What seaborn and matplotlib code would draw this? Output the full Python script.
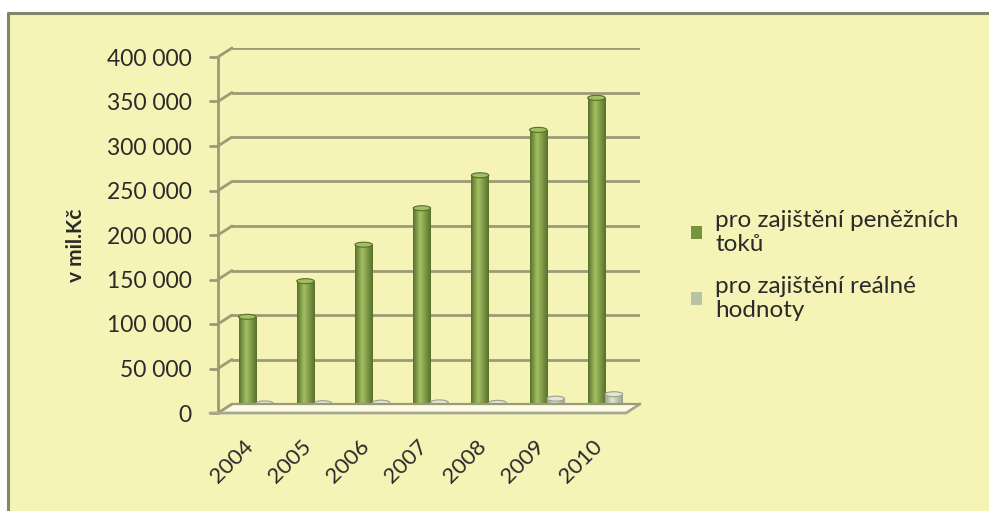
import numpy as np
import pandas as pd
import matplotlib
matplotlib.use("Agg")
import matplotlib.pyplot as plt
import matplotlib.transforms as mtransforms
from matplotlib.patches import Rectangle, Polygon, Ellipse, Patch
from matplotlib.lines import Line2D
import seaborn as sns

# ---- data (mil. Kč) ----
years = ["2004", "2005", "2006", "2007", "2008", "2009", "2010"]
cash_flow_hedges = [98000, 138000, 179000, 220000, 257000, 308000, 344000]
fair_value_hedges = [600, 900, 1500, 1800, 1300, 6000, 11000]
series_names = ["pro zajištění peněžních\ntoků", "pro zajištění reálné\nhodnoty"]
y_ticks = [0, 50000, 100000, 150000, 200000, 250000, 300000, 350000, 400000]
y_label = "v mil.Kč"

W, H, DPI = 989, 511, 100
BG = "#f5f4b6"
GRID = "#9d9b76"
GREEN = "#77933c"
GREEN_DARK = "#56702a"
GREEN_LIGHT = "#a3bf62"
GREY = "#c3cab0"
GREY_DARK = "#9aa08a"
GREY_LIGHT = "#e2e6d6"
TEXT = "#2a2a2a"

sns.set_theme(style="white")
plt.rcParams["font.family"] = ["Lato", "DejaVu Sans"]

df = pd.DataFrame({
    "year": years * 2,
    "value": cash_flow_hedges + fair_value_hedges,
    "series": [series_names[0]] * len(years) + [series_names[1]] * len(years),
})

fig = plt.figure(figsize=(W / DPI, H / DPI), dpi=DPI, facecolor="white")


def fx(x):
    return x / W


def fy(y):
    return 1 - y / H


# chart area with border on top and left
fig.patches.append(Rectangle((fx(8), 0), 1 - fx(8), fy(13), transform=fig.transFigure,
                             facecolor=BG, edgecolor="none", zorder=-10))
fig.add_artist(Line2D([fx(8), 1], [fy(13), fy(13)], transform=fig.transFigure,
                      color="#85856a", lw=2.2))
fig.add_artist(Line2D([fx(8), fx(8)], [fy(13), 0], transform=fig.transFigure,
                      color="#85856a", lw=2.2))

# plot area (back wall)
left, right, top, bottom = 232, 640, 48, 404
ax = fig.add_axes([fx(left), fy(bottom), fx(right - left), (bottom - top) / H])
ax.set_facecolor("none")

sns.barplot(data=df, x="year", y="value", hue="series", ax=ax,
            palette=[GREEN, GREY], width=0.6, saturation=1, legend=False,
            edgecolor="none", zorder=3)

ymax = 400000
unit = ymax / (bottom - top)          # data units per pixel
ax.set_ylim(0, ymax)
x0 = -(256 - left) / 58.2
x1 = (right - 256) / 58.2
ax.set_xlim(x0, x1)

# cylinder shading and top caps
shade = np.concatenate([np.linspace(0.0, 1.0, 40), np.linspace(1.0, 0.0, 60)])[None, :]
for i, bar in enumerate(ax.patches):
    bx, bw, bh = bar.get_x(), bar.get_width(), bar.get_height()
    is_green = i < len(years)
    dark, light = (GREEN_DARK, GREEN_LIGHT) if is_green else (GREY_DARK, GREY_LIGHT)
    cmap = matplotlib.colors.LinearSegmentedColormap.from_list("cyl", [dark, light])
    im = ax.imshow(shade, extent=(bx, bx + bw, 0, bh), aspect="auto", cmap=cmap,
                   zorder=3, interpolation="bilinear")
    im.set_clip_path(bar)
    cap = Ellipse((bx + bw / 2, bh), bw, 5 * unit,
                  facecolor=GREEN_LIGHT if is_green else GREY_LIGHT,
                  edgecolor=dark, lw=0.8, zorder=4)
    ax.add_patch(cap)
ax.set_ylim(0, ymax)
ax.set_xlim(x0, x1)

# back-wall gridlines
ax.set_yticks(y_ticks)
for v in y_ticks[1:]:
    ax.axhline(v, color=GRID, lw=2.0, zorder=1)
for s in ax.spines.values():
    s.set_visible(False)

ax.set_yticklabels([f"{v:,}".replace(",", " ") for v in y_ticks],
                   fontsize=16.5, color=TEXT)
ax.tick_params(axis="y", length=0, pad=29)
shift_down = mtransforms.ScaledTranslation(0, -9 / DPI, fig.dpi_scale_trans)
for lab in ax.get_yticklabels():
    lab.set_transform(lab.get_transform() + shift_down)

ax.set_xlabel("")
ax.set_ylabel("")
ax.tick_params(axis="x", length=0, pad=14)
for lab in ax.get_xticklabels():
    lab.set_rotation(45)
    lab.set_ha("right")
    lab.set_va("center")
    lab.set_rotation_mode("anchor")
    lab.set_fontsize(16)
    lab.set_color(TEXT)
    lab.set_transform(lab.get_transform() +
                      mtransforms.ScaledTranslation(-6 / DPI, -20 / DPI, fig.dpi_scale_trans))

# front axis, tick marks and depth connectors
step = (bottom - top) / 8
fig.add_artist(Line2D([fx(218), fx(218)], [fy(57), fy(413)], transform=fig.transFigure,
                      color=GRID, lw=2.0))
for k in range(9):
    gy = bottom - k * step
    ty = gy + 9
    fig.add_artist(Line2D([fx(210), fx(218)], [fy(ty), fy(ty)], transform=fig.transFigure,
                          color=GRID, lw=2.0))
    fig.add_artist(Line2D([fx(218), fx(232)], [fy(ty), fy(gy)], transform=fig.transFigure,
                          color=GRID, lw=2.0))

# floor
floor = Polygon([(fx(218), fy(413)), (fx(626), fy(413)), (fx(640), fy(404)), (fx(232), fy(404))],
                closed=True, transform=fig.transFigure, facecolor="#fbfbe6",
                edgecolor="#b9b8a0", lw=1.0, zorder=0.5)
fig.add_artist(floor)
fig.add_artist(Line2D([fx(210), fx(626), fx(640)], [fy(413), fy(413), fy(404)],
                      transform=fig.transFigure, color="#a8a790", lw=2.0))
fig.add_artist(Line2D([fx(232), fx(640)], [fy(404), fy(404)],
                      transform=fig.transFigure, color=GRID, lw=1.6))

# axis title
fig.text(fx(76), fy(245), y_label, rotation=90, ha="center", va="center",
         fontsize=15, fontweight="bold", color=TEXT)

# legend
handles = [Patch(facecolor=GREEN, edgecolor="none"), Patch(facecolor="#b8c2a6", edgecolor="none")]
fig.legend(handles, series_names, loc="upper left", bbox_to_anchor=(fx(669), fy(188)),
           frameon=False, fontsize=17.5, handlelength=0.45, handleheight=0.45,
           handletextpad=0.55, labelspacing=0.85, labelcolor=TEXT)

fig.savefig("out.png", dpi=DPI, facecolor="white")
